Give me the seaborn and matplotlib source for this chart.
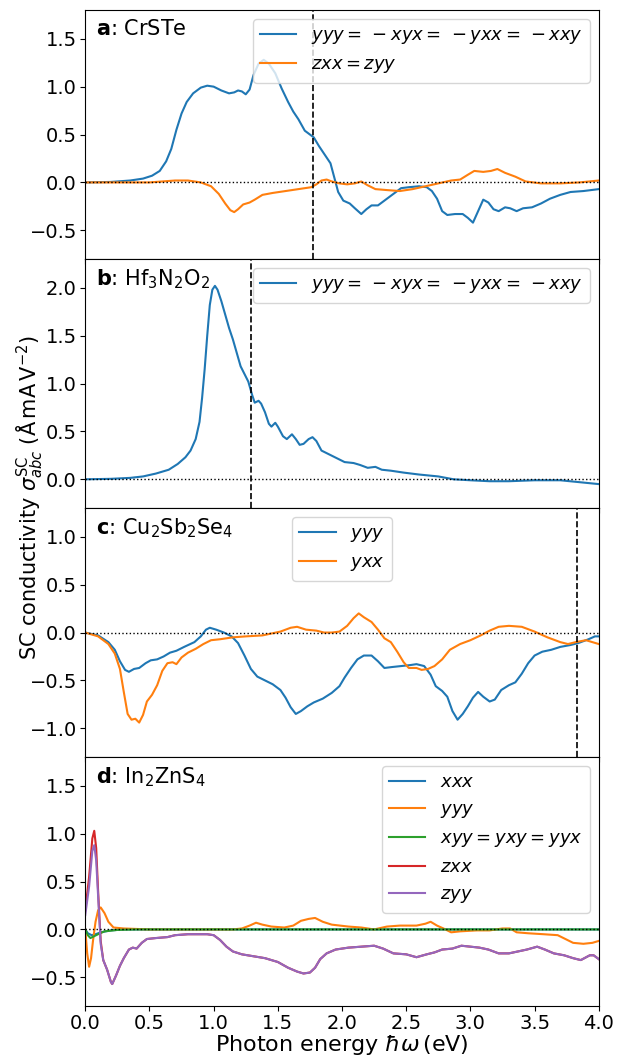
"""
Shift-current conductivity spectra for four materials (panels a-d).
"""

import matplotlib
matplotlib.use("Agg")
import matplotlib.pyplot as plt
import seaborn as sns

# --------------------------
# Data
# --------------------------

# a: CrSTe
a_e_yyy = [0.0, 0.2, 0.35, 0.45, 0.52, 0.58, 0.63, 0.67, 0.71, 0.75, 0.79, 0.84, 0.90, 0.95,
           1.00, 1.06, 1.12, 1.16, 1.19, 1.22, 1.25, 1.28, 1.31, 1.35, 1.39, 1.43, 1.48, 1.53,
           1.58, 1.62, 1.66, 1.71, 1.75, 1.78, 1.82, 1.87, 1.91, 1.94, 1.97, 2.01, 2.06, 2.10,
           2.15, 2.19, 2.23, 2.28, 2.33, 2.40, 2.46, 2.52, 2.60, 2.66, 2.70, 2.74, 2.78, 2.82,
           2.88, 2.94, 2.98, 3.02, 3.06, 3.10, 3.14, 3.18, 3.22, 3.27, 3.31, 3.36, 3.41, 3.48,
           3.55, 3.62, 3.70, 3.78, 3.88, 4.00]
a_yyy = [0.0, 0.005, 0.02, 0.04, 0.07, 0.12, 0.22, 0.35, 0.55, 0.72, 0.84, 0.93, 0.99, 1.01,
         1.00, 0.96, 0.93, 0.94, 0.96, 0.95, 0.92, 0.97, 1.12, 1.24, 1.28, 1.24, 1.14, 0.98,
         0.84, 0.74, 0.66, 0.54, 0.50, 0.47, 0.38, 0.28, 0.20, 0.05, -0.10, -0.19, -0.22, -0.27,
         -0.33, -0.28, -0.24, -0.24, -0.19, -0.12, -0.06, -0.05, -0.04, -0.05, -0.09, -0.17, -0.30, -0.34,
         -0.33, -0.33, -0.37, -0.42, -0.30, -0.18, -0.21, -0.28, -0.30, -0.26, -0.27, -0.30, -0.27, -0.26,
         -0.22, -0.17, -0.13, -0.10, -0.09, -0.07]
a_e_zxx = [0.0, 0.5, 0.7, 0.8, 0.9, 0.98, 1.04, 1.09, 1.13, 1.16, 1.19, 1.23, 1.28, 1.32, 1.38,
           1.46, 1.56, 1.66, 1.76, 1.80, 1.84, 1.88, 1.92, 1.98, 2.04, 2.10, 2.15, 2.20, 2.26,
           2.35, 2.45, 2.55, 2.65, 2.75, 2.85, 2.92, 2.98, 3.03, 3.10, 3.16, 3.21, 3.27, 3.35,
           3.43, 3.55, 3.70, 3.85, 4.00]
a_zxx = [0.0, 0.0, 0.02, 0.02, 0.0, -0.04, -0.12, -0.22, -0.29, -0.31, -0.28, -0.23, -0.21, -0.18, -0.13,
         -0.11, -0.09, -0.07, -0.05, -0.02, 0.02, 0.03, 0.01, -0.01, -0.02, -0.01, 0.01, -0.03, -0.07,
         -0.08, -0.09, -0.07, -0.04, -0.01, 0.02, 0.03, 0.08, 0.12, 0.11, 0.12, 0.14, 0.10, 0.06,
         0.01, -0.01, -0.01, 0.0, 0.02]

# b: Hf3N2O2
b_e_yyy = [0.0, 0.2, 0.35, 0.45, 0.55, 0.65, 0.72, 0.78, 0.82, 0.86, 0.89, 0.91, 0.93, 0.95,
           0.97, 0.99, 1.01, 1.03, 1.06, 1.09, 1.12, 1.15, 1.18, 1.21, 1.24, 1.27, 1.30, 1.32,
           1.35, 1.37, 1.40, 1.43, 1.45, 1.48, 1.50, 1.54, 1.57, 1.61, 1.64, 1.67, 1.70, 1.74,
           1.77, 1.80, 1.84, 1.90, 1.96, 2.02, 2.09, 2.14, 2.20, 2.26, 2.31, 2.38, 2.48, 2.60,
           2.75, 2.87, 3.00, 3.15, 3.30, 3.50, 3.70, 3.85, 4.00]
b_yyy = [0.0, 0.005, 0.015, 0.03, 0.06, 0.10, 0.16, 0.23, 0.30, 0.42, 0.60, 0.85, 1.15, 1.50,
         1.82, 1.98, 2.02, 1.98, 1.86, 1.72, 1.58, 1.46, 1.32, 1.18, 1.10, 1.02, 0.88, 0.80,
         0.82, 0.79, 0.70, 0.58, 0.55, 0.59, 0.55, 0.45, 0.42, 0.47, 0.42, 0.36, 0.37, 0.42,
         0.44, 0.40, 0.30, 0.26, 0.22, 0.18, 0.17, 0.15, 0.12, 0.13, 0.10, 0.09, 0.07, 0.05,
         0.03, 0.0, -0.01, -0.02, -0.02, -0.01, -0.01, -0.03, -0.05]

# c: Cu2Sb2Se4
c_e_yyy = [0.0, 0.1, 0.18, 0.23, 0.27, 0.31, 0.34, 0.38, 0.42, 0.47, 0.51, 0.56, 0.61, 0.66,
           0.71, 0.77, 0.85, 0.90, 0.94, 0.97, 1.02, 1.08, 1.14, 1.19, 1.24, 1.29, 1.34, 1.40,
           1.46, 1.52, 1.56, 1.60, 1.64, 1.68, 1.73, 1.78, 1.85, 1.92, 1.98, 2.02, 2.07, 2.12,
           2.17, 2.23, 2.28, 2.33, 2.39, 2.46, 2.53, 2.58, 2.64, 2.69, 2.73, 2.78, 2.82, 2.86,
           2.90, 2.94, 2.98, 3.02, 3.06, 3.10, 3.15, 3.19, 3.24, 3.30, 3.35, 3.40, 3.45, 3.50,
           3.56, 3.63, 3.70, 3.78, 3.84, 3.92, 3.97, 4.00]
c_yyy = [0.0, -0.03, -0.10, -0.18, -0.30, -0.39, -0.41, -0.38, -0.37, -0.32, -0.29, -0.28, -0.25, -0.21,
         -0.19, -0.15, -0.10, -0.04, 0.03, 0.05, 0.03, 0.0, -0.04, -0.11, -0.24, -0.38, -0.46, -0.50,
         -0.54, -0.60, -0.68, -0.78, -0.85, -0.82, -0.77, -0.73, -0.69, -0.63, -0.56, -0.47, -0.37, -0.28,
         -0.24, -0.24, -0.30, -0.37, -0.36, -0.35, -0.34, -0.33, -0.35, -0.44, -0.56, -0.61, -0.67, -0.82,
         -0.91, -0.85, -0.77, -0.68, -0.62, -0.67, -0.72, -0.70, -0.60, -0.55, -0.52, -0.43, -0.32, -0.24,
         -0.20, -0.18, -0.15, -0.13, -0.11, -0.07, -0.04, -0.04]
c_e_yxx = [0.0, 0.1, 0.18, 0.23, 0.27, 0.30, 0.33, 0.36, 0.39, 0.42, 0.45, 0.48, 0.52, 0.56,
           0.60, 0.64, 0.68, 0.71, 0.75, 0.80, 0.86, 0.92, 0.98, 1.05, 1.15, 1.25, 1.38, 1.45,
           1.52, 1.60, 1.65, 1.72, 1.80, 1.86, 1.92, 1.98, 2.04, 2.09, 2.13, 2.17, 2.23, 2.28,
           2.33, 2.38, 2.43, 2.48, 2.52, 2.58, 2.62, 2.67, 2.72, 2.78, 2.84, 2.92, 3.00, 3.08,
           3.15, 3.22, 3.30, 3.40, 3.50, 3.60, 3.70, 3.76, 3.82, 3.90, 3.95, 4.00]
c_yxx = [0.0, -0.04, -0.12, -0.22, -0.38, -0.62, -0.85, -0.91, -0.90, -0.94, -0.86, -0.72, -0.65, -0.55,
         -0.40, -0.32, -0.31, -0.33, -0.26, -0.21, -0.17, -0.12, -0.08, -0.07, -0.05, -0.04, -0.03, -0.01,
         0.01, 0.05, 0.06, 0.03, 0.02, 0.0, 0.0, 0.01, 0.07, 0.15, 0.20, 0.16, 0.11, 0.03,
         -0.06, -0.10, -0.20, -0.31, -0.37, -0.37, -0.39, -0.38, -0.35, -0.28, -0.18, -0.12, -0.08, -0.03,
         0.02, 0.06, 0.07, 0.06, 0.01, -0.05, -0.10, -0.12, -0.10, -0.08, -0.10, -0.12]

# d: In2ZnS4
d_e_xxx = [0.0, 0.02, 0.05, 0.08, 0.12, 0.20, 0.30, 4.00]
d_xxx = [0.0, -0.04, -0.06, -0.05, -0.03, -0.01, 0.0, 0.0]
d_e_yyy = [0.0, 0.015, 0.03, 0.045, 0.06, 0.08, 0.10, 0.12, 0.15, 0.18, 0.22, 0.30, 0.50, 1.15,
           1.22, 1.28, 1.33, 1.38, 1.45, 1.55, 1.62, 1.68, 1.74, 1.79, 1.85, 1.92, 2.05, 2.15,
           2.25, 2.35, 2.45, 2.58, 2.65, 2.69, 2.74, 2.79, 2.85, 2.92, 3.05, 3.15, 3.25, 3.31,
           3.36, 3.45, 3.57, 3.68, 3.74, 3.80, 3.88, 3.95, 4.00]
d_yyy = [0.0, -0.25, -0.39, -0.30, -0.12, 0.08, 0.20, 0.23, 0.17, 0.08, 0.02, 0.01, 0.0, 0.0,
         0.01, 0.04, 0.07, 0.05, 0.03, 0.02, 0.04, 0.09, 0.11, 0.12, 0.08, 0.05, 0.03, 0.02,
         0.0, 0.03, 0.04, 0.04, 0.06, 0.08, 0.04, 0.01, -0.03, -0.02, -0.01, -0.01, 0.01, 0.01,
         -0.03, -0.04, -0.05, -0.06, -0.10, -0.14, -0.15, -0.14, -0.12]
d_e_xyy = [0.0, 0.02, 0.04, 0.07, 0.10, 0.15, 0.25, 0.40, 4.00]
d_xyy = [0.0, -0.06, -0.09, -0.07, -0.05, -0.02, -0.005, 0.0, 0.0]
d_e_z = [0.0, 0.03, 0.055, 0.07, 0.085, 0.10, 0.12, 0.14, 0.17, 0.20, 0.21, 0.24, 0.27, 0.30,
         0.34, 0.37, 0.40, 0.44, 0.48, 0.55, 0.64, 0.70, 0.80, 0.95, 1.00, 1.05, 1.10, 1.15,
         1.22, 1.31, 1.40, 1.50, 1.58, 1.65, 1.70, 1.75, 1.79, 1.83, 1.88, 1.95, 2.05, 2.15,
         2.25, 2.32, 2.40, 2.50, 2.58, 2.66, 2.72, 2.78, 2.86, 2.93, 3.00, 3.07, 3.14, 3.22,
         3.30, 3.37, 3.44, 3.52, 3.58, 3.65, 3.73, 3.80, 3.86, 3.93, 3.96, 4.00]
d_zxx = [0.2, 0.55, 0.95, 1.03, 0.85, 0.40, -0.12, -0.32, -0.42, -0.55, -0.57, -0.48, -0.38, -0.30,
         -0.21, -0.19, -0.20, -0.14, -0.10, -0.09, -0.08, -0.06, -0.05, -0.05, -0.06, -0.11, -0.18, -0.23,
         -0.26, -0.28, -0.30, -0.34, -0.40, -0.44, -0.46, -0.45, -0.40, -0.31, -0.25, -0.21, -0.19, -0.18,
         -0.17, -0.20, -0.25, -0.26, -0.29, -0.26, -0.24, -0.21, -0.20, -0.17, -0.18, -0.19, -0.21, -0.25,
         -0.25, -0.23, -0.21, -0.18, -0.21, -0.25, -0.27, -0.30, -0.32, -0.27, -0.27, -0.31]
d_zyy = [0.15, 0.45, 0.82, 0.88, 0.72, 0.35, -0.15, -0.32, -0.42, -0.55, -0.57, -0.48, -0.38, -0.30,
         -0.21, -0.19, -0.20, -0.14, -0.10, -0.09, -0.08, -0.06, -0.05, -0.05, -0.06, -0.11, -0.18, -0.23,
         -0.26, -0.28, -0.30, -0.34, -0.40, -0.44, -0.46, -0.45, -0.40, -0.31, -0.25, -0.21, -0.19, -0.18,
         -0.17, -0.20, -0.25, -0.26, -0.29, -0.26, -0.24, -0.21, -0.20, -0.17, -0.18, -0.19, -0.21, -0.25,
         -0.25, -0.23, -0.21, -0.18, -0.21, -0.25, -0.27, -0.30, -0.32, -0.27, -0.27, -0.31]

panel_titles = [r"$\bf{a}$: CrSTe", r"$\bf{b}$: Hf$_3$N$_2$O$_2$",
                r"$\bf{c}$: Cu$_2$Sb$_2$Se$_4$", r"$\bf{d}$: In$_2$ZnS$_4$"]
gap_lines = [1.77, 1.29, 3.83, None]
y_limits = [(-0.8, 1.8), (-0.3, 2.3), (-1.3, 1.3), (-0.8, 1.8)]

lbl_a = r"$yyy=\,-xyx=\,-yxx=\,-xxy$"

# --------------------------
# Plot
# --------------------------

fig, axes = plt.subplots(4, 1, figsize=(6.27, 10.56), dpi=100, sharex=True)
fig.subplots_adjust(left=0.136, right=0.955, top=0.9905, bottom=0.0473, hspace=0)

series = [
    [(a_e_yyy, a_yyy, lbl_a, "C0"), (a_e_zxx, a_zxx, r"$zxx=zyy$", "C1")],
    [(b_e_yyy, b_yyy, lbl_a, "C0")],
    [(c_e_yyy, c_yyy, r"$yyy$", "C0"), (c_e_yxx, c_yxx, r"$yxx$", "C1")],
    [(d_e_xxx, d_xxx, r"$xxx$", "C0"), (d_e_yyy, d_yyy, r"$yyy$", "C1"),
     (d_e_xyy, d_xyy, r"$xyy=yxy=yyx$", "C2"), (d_e_z, d_zxx, r"$zxx$", "C3"),
     (d_e_z, d_zyy, r"$zyy$", "C4")],
]
legend_locs = ["upper right", "upper right", "upper center", "upper right"]

for ax, curves, title, gap, ylim, loc in zip(axes, series, panel_titles, gap_lines,
                                             y_limits, legend_locs):
    for e, v, lab, col in curves:
        sns.lineplot(x=e, y=v, ax=ax, label=lab, color=col, lw=1.5)
    ax.axhline(0, color="k", ls=":", lw=1)
    if gap is not None:
        ax.axvline(gap, color="k", ls="--", lw=1.2)
    ax.set_xlim(0, 4)
    ax.set_ylim(*ylim)
    ax.tick_params(labelsize=14, pad=2.5)
    ax.text(0.02, 0.965, title, transform=ax.transAxes, fontsize=15, va="top", ha="left")
    ax.legend(loc=loc, fontsize=13)
    ax.set_ylabel("")

axes[-1].set_xlabel(r"Photon energy $\hbar\omega\,$(eV)", fontsize=16, labelpad=0)
fig.text(0.048, 0.529, r"SC conductivity $\sigma^{\rm SC}_{abc}$ ($\rm\AA\,mA\,V^{-2}$)",
         rotation=90, va="center", ha="center", fontsize=15)

fig.savefig("out.png", dpi=100)
